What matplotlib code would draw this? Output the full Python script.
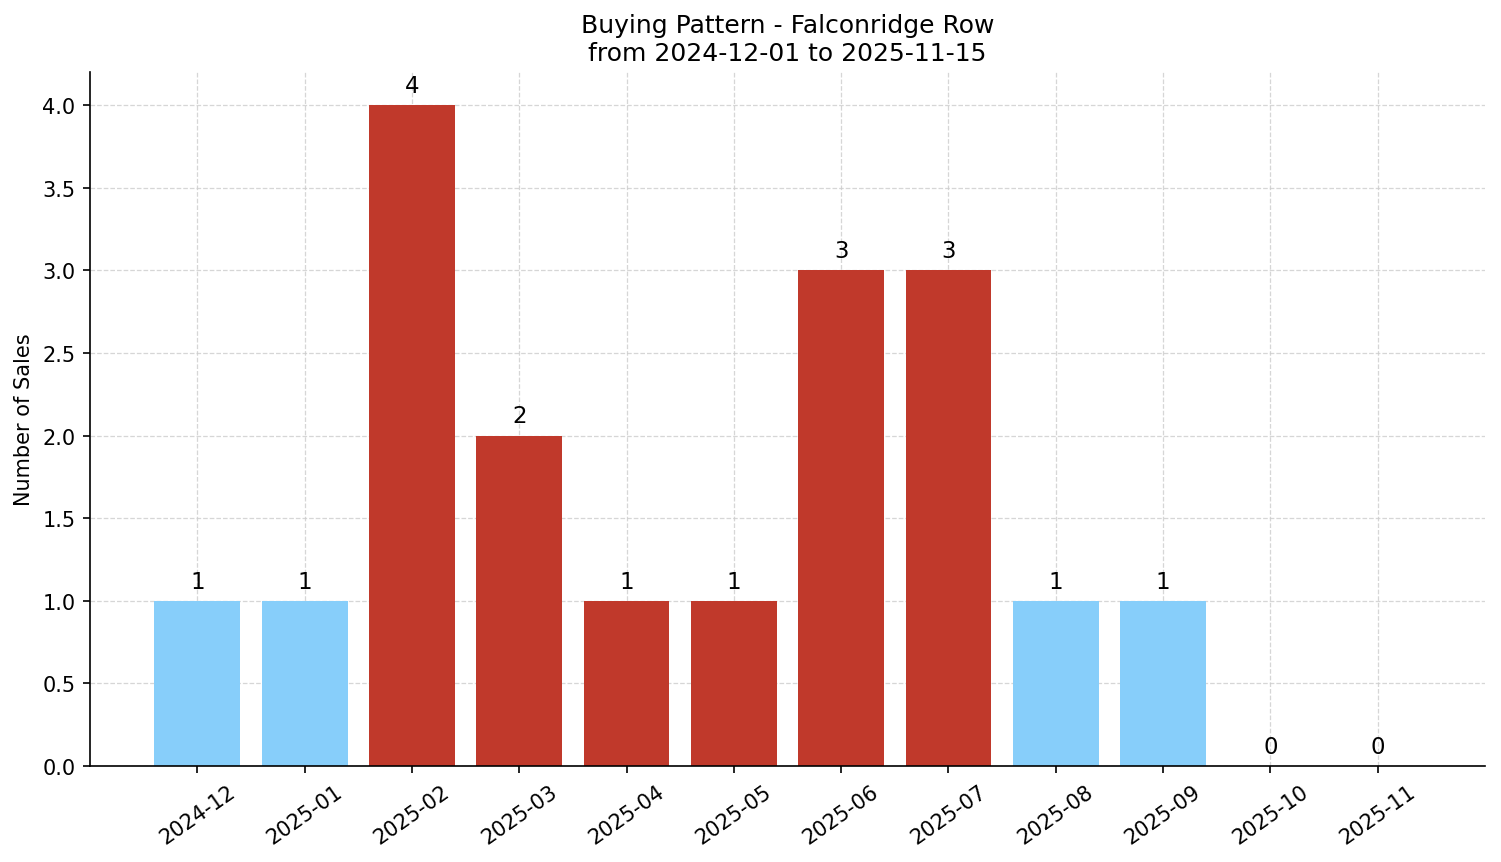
import matplotlib
matplotlib.use("Agg")
import matplotlib.pyplot as plt

months = ["2024-12", "2025-01", "2025-02", "2025-03", "2025-04", "2025-05",
          "2025-06", "2025-07", "2025-08", "2025-09", "2025-10", "2025-11"]
sales = [1, 1, 4, 2, 1, 1, 3, 3, 1, 1, 0, 0]
highlight = [False, False, True, True, True, True, True, True, False, False, False, False]

RED = "#c0392b"
BLUE = "#87cefa"


def main():
    fig, ax = plt.subplots(figsize=(10.0067, 5.7533), dpi=150)
    colors = [RED if h else BLUE for h in highlight]
    x = list(range(len(months)))
    ax.bar(x, sales, color=colors, width=0.8, zorder=2)

    for xi, v in zip(x, sales):
        ax.text(xi, v + 0.05, str(v), ha="center", va="bottom", fontsize=11)

    ax.set_xticks(x)
    ax.set_xticklabels(months, rotation=35)
    ax.set_xlim(-1, 12)
    ax.set_ylim(0, 4.2)
    ax.set_ylabel("Number of Sales")
    ax.set_title("Buying Pattern - Falconridge Row\nfrom 2024-12-01 to 2025-11-15", fontsize=12)
    ax.grid(True, linestyle="--", color="#cccccc", alpha=0.8, linewidth=0.6, zorder=0)
    ax.set_axisbelow(True)
    ax.spines["top"].set_visible(False)
    ax.spines["right"].set_visible(False)

    fig.subplots_adjust(left=0.060, right=0.9893, top=0.9154, bottom=0.1112)
    fig.savefig("out.png", dpi=150)
    plt.close(fig)


if __name__ == "__main__":
    main()
